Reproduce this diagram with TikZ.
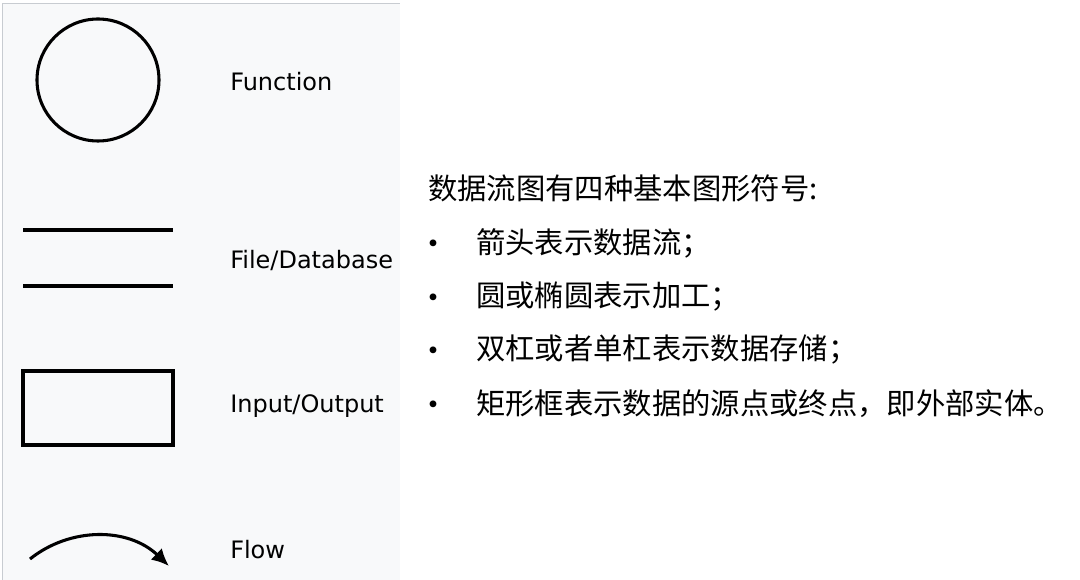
\documentclass[tikz,border=0pt]{standalone}
\usepackage{fontspec}
\usepackage{xcolor}
\setmainfont{DejaVu Sans}
\newfontfamily\cjk{Noto Sans CJK SC}
\usetikzlibrary{arrows.meta}
\definecolor{panelbg}{HTML}{F8F9FA}
\definecolor{panelrule}{HTML}{C8CCD1}

\begin{document}
\begin{tikzpicture}[x=0.75pt,y=-0.75pt,
  symline/.style={line width=2.3pt},
  lbl/.style={anchor=west, inner sep=0pt, font=\fontsize{18}{22}\selectfont},
  cjktext/.style={anchor=west, inner sep=0pt, font=\cjk\fontsize{22}{26}\selectfont},
  dot/.style={inner sep=0pt, font=\cjk\fontsize{24}{26}\selectfont}]
  \useasboundingbox (0,0) rectangle (1080,580);

  % legend panel
  \fill[panelbg] (2,3) rectangle (400,580);
  \draw[panelrule, line width=1.3pt] (2.5,580) -- (2.5,3.5) -- (400,3.5);

  % symbols
  \node[draw, circle, symline, minimum size=91.5pt, inner sep=0pt] (func) at (98,80) {};
  \draw[symline] (23,230) -- (173,230);
  \draw[symline] (23,286) -- (173,286);
  \draw[symline] (23,371) rectangle (173,445);
  \coordinate (flowa) at (30,559);
  \coordinate (flowb) at (169,566);
  \draw[symline, -{Latex[length=13pt, width=12pt]}] (flowa) .. controls (70,527) and (128,527) .. (flowb);

  \node[lbl] (funclbl) at (230,82) {Function};
  \node[lbl] (filelbl) at (230,260) {File/Database};
  \node[lbl] (iolbl) at (230,406) {Input/Output};
  \node[lbl] (flowlbl) at (230,550) {Flow};

  % description
  \node[cjktext] (title) at (428,188) {数据流图有四种基本图形符号:};
  \node[dot] (b1) at (433,248) {•};
  \node[dot] (b2) at (433,302) {•};
  \node[dot] (b3) at (433,355) {•};
  \node[dot] (b4) at (433,409) {•};
  \node[cjktext] (item1) at (476,243) {箭头表示数据流；};
  \node[cjktext] (item2) at (476,297) {圆或椭圆表示加工；};
  \node[cjktext] (item3) at (476,350) {双杠或者单杠表示数据存储；};
  \node[cjktext] (item4) at (476,404) {矩形框表示数据的源点或终点，即外部实体。};
\end{tikzpicture}
\end{document}
